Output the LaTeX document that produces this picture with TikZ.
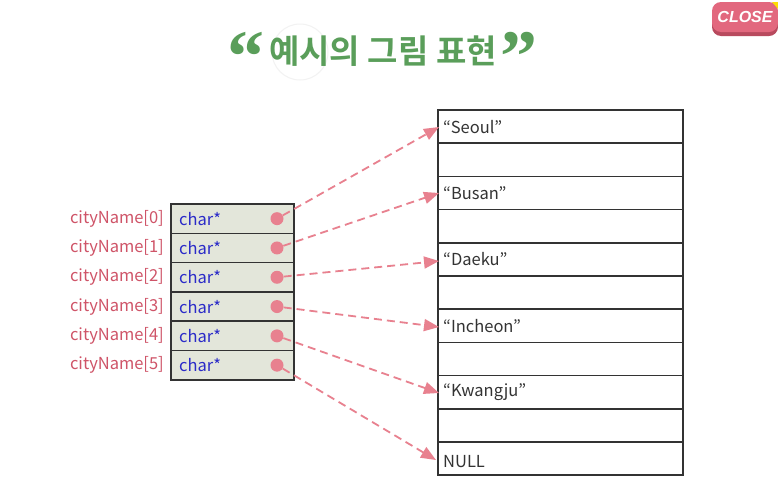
\documentclass[tikz,border=0pt]{standalone}
\usepackage{fontspec}
\setmainfont{Noto Sans CJK KR}
\newfontfamily\kor{Noto Sans CJK KR}
\newfontfamily\korb{Noto Sans CJK KR Bold}
\newfontfamily\quotefont{Liberation Serif}
\usetikzlibrary{arrows.meta,positioning}
\definecolor{titlegreen}{HTML}{5A9E5A}
\definecolor{labred}{HTML}{CF5468}
\definecolor{charblue}{HTML}{2B2BC8}
\definecolor{cellfill}{HTML}{E3E6DA}
\definecolor{dotpink}{HTML}{E8818F}
\definecolor{closepink}{HTML}{E2687E}
\definecolor{closedark}{HTML}{B84A5E}
\tikzset{
  ptrcell/.style={draw=black!80, line width=1.5pt, fill=cellfill, minimum width=123pt, minimum height=29.3pt, inner sep=0pt, outer sep=0pt},
  strcell/.style={draw=black!80, line width=1.5pt, fill=white, minimum width=245pt, minimum height=33.2pt, inner sep=0pt, outer sep=0pt},
  lab/.style={text=labred, font=\kor\fontsize{16.5}{18}\selectfont, anchor=east, inner sep=0pt},
  ctype/.style={text=charblue, font=\kor\fontsize{16.5}{18}\selectfont, anchor=west, inner sep=0pt},
  stext/.style={text=black!80, font=\kor\fontsize{16.5}{18}\selectfont, anchor=west, inner sep=0pt},
  pdot/.style={circle, fill=dotpink, minimum size=13pt, inner sep=0pt},
  ptrarrow/.style={draw=dotpink, line width=1.8pt, dash pattern=on 8pt off 5pt, -{Triangle[length=15pt,width=12pt]}},
  bigquote/.style={text=titlegreen, font=\quotefont\bfseries\fontsize{74}{74}\selectfont, inner sep=0pt},
}
\begin{document}
\begin{tikzpicture}[x=1pt,y=-1pt]
\useasboundingbox (0,0) rectangle (778,488);
\fill[white] (0,0) rectangle (778,488);
% faint circle behind title
\draw[black!5, line width=1pt] (300,52) circle (28);
% title
\node[bigquote] (q1) at (246,57) {“};
\node[text=titlegreen, font=\korb\fontsize{33}{34}\selectfont, inner sep=0pt] (title) at (383,51) {예시의 그림 표현};
\node[bigquote] (q2) at (519,57) {”};
% CLOSE button
\fill[closedark, rounded corners=9pt] (712,5) rectangle (778,36);
\fill[closepink, rounded corners=9pt] (712,2) rectangle (778,32);
\fill[yellow!80!orange] (772,2) -- (778,2) -- (778,9) -- cycle;
\node[text=white, font=\fontspec{Liberation Sans}\bfseries\itshape\fontsize{16}{16}\selectfont, inner sep=0pt] (close) at (745,17) {CLOSE};
% string cells
\foreach \i in {0,...,10} {
  \node[strcell, anchor=north west] (s\i) at (438,{110+33.2*\i}) {};
}
\node[stext] (t0) at ([xshift=5pt]s0.west) {“Seoul”};
\node[stext] (t2) at ([xshift=5pt]s2.west) {“Busan”};
\node[stext] (t4) at ([xshift=5pt]s4.west) {“Daeku”};
\node[stext] (t6) at ([xshift=5pt]s6.west) {“Incheon”};
\node[stext] (t8) at ([xshift=5pt]s8.west) {“Kwangju”};
\node[stext] (t10) at ([xshift=5pt,yshift=-3pt]s10.west) {NULL};
% pointer cells
\foreach \i in {0,...,5} {
  \node[ptrcell, anchor=north west] (p\i) at (171,{204+29.3*\i}) {};
  \node[ctype] (c\i) at ([xshift=8pt]p\i.west) {char*};
  \node[lab] (l\i) at ([xshift=-7pt]p\i.west) {cityName[\i]};
  \node[pdot] (d\i) at ([xshift=-17pt]p\i.east) {};
}
% arrows
\coordinate (e0) at (439,127);
\coordinate (e1) at (439,193);
\coordinate (e2) at (439,261);
\coordinate (e3) at (439,327);
\coordinate (e4) at (439,393);
\coordinate (e5) at (436,460);
\draw[ptrarrow] (d0) -- (e0);
\draw[ptrarrow] (d1) -- (e1);
\draw[ptrarrow] (d2) -- (e2);
\draw[ptrarrow] (d3) -- (e3);
\draw[ptrarrow] (d4) -- (e4);
\draw[ptrarrow] (d5) -- (e5);
\end{tikzpicture}
\end{document}
